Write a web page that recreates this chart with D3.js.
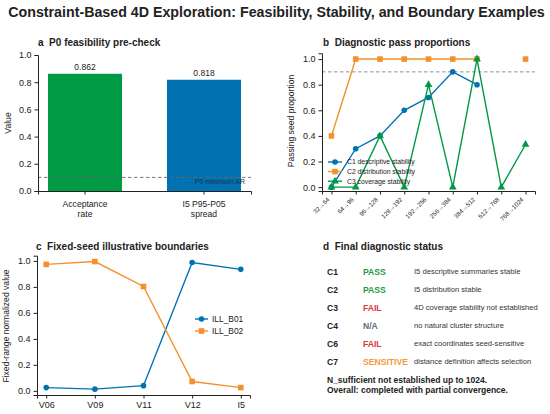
<!DOCTYPE html>
<html>
<head>
<meta charset="utf-8">
<script src="https://cdn.jsdelivr.net/npm/d3@7"></script>
<style>
  body { margin: 0; background: #fff; }
  text { font-family: "Liberation Sans", Arial, sans-serif; fill: #222; }
</style>
</head>
<body>
<div id="chart"></div>
<script>
// data
var feasCats = ["Acceptance\nrate", "I5 P95-P05\nspread"];
var feasVals = [0.862, 0.818];
var feasMinAR = 0.1;

var nRanges = ["32→64", "64→96", "96→128", "128→192", "192→256", "256→384", "384→512", "512→768", "768→1024"];
var c1Vals = [0.0, 0.3, 0.4, 0.6, 0.7, 0.9, 0.8, null, null];
var c2Vals = [0.4, 1.0, 1.0, 1.0, 1.0, 1.0, 1.0, null, 1.0];
var c3Vals = [0.0, 0.0, 0.4, 0.0, 0.8, 0.0, 1.0, 0.0, 0.333];
var passThreshold = 0.9;

var boundVars = ["V06", "V09", "V11", "V12", "I5"];
var b01Vals = [0.025, 0.013, 0.04, 0.988, 0.935];
var b02Vals = [0.973, 0.995, 0.803, 0.072, 0.025];

var statusCodes = ["C1", "C2", "C3", "C4", "C6", "C7"];
var statusVals = ["PASS", "PASS", "FAIL", "N/A", "FAIL", "SENSITIVE"];
var statusNotes = ["I5 descriptive summaries stable", "I5 distribution stable",
  "4D coverage stability not established", "no natural cluster structure",
  "exact coordinates seed-sensitive", "distance definition affects selection"];
var summaryLines = ["N_sufficient not established up to 1024.",
  "Overall: completed with partial convergence."];

// colours
var green = "#009a44", blue = "#0072b2", orange = "#f5902e";
var statusColor = {"PASS": "#1e9a4a", "FAIL": "#d9363e", "N/A": "#5d6b7a", "SENSITIVE": "#f59a3a"};

var width = 550, height = 414;
var svg = d3.select("#chart").append("svg")
  .attr("width", width).attr("height", height);

// main title, scaled so it spans the same width as the reference
var title = svg.append("text")
  .attr("x", 276.5).attr("y", 17)
  .attr("text-anchor", "middle")
  .attr("font-weight", "bold")
  .attr("font-size", "12.5px")
  .text("Constraint-Based 4D Exploration: Feasibility, Stability, and Boundary Examples");
var tw = title.node().getComputedTextLength();
title.attr("font-size", (12.5 * 537 / tw) + "px");

function panelTitle(x, y, letter, txt) {
  svg.append("text").attr("x", x).attr("y", y)
    .attr("font-weight", "bold").attr("font-size", "10px")
    .attr("xml:space", "preserve")
    .text(letter + "  " + txt);
}

// matplotlib-ish axis styling
function styleAxis(g) {
  g.selectAll("path.domain").attr("stroke", "#222").attr("stroke-width", 1);
  g.selectAll(".tick line").attr("stroke", "#222");
  g.selectAll(".tick text").attr("fill", "#222").attr("font-family", "Liberation Sans, Arial, sans-serif");
}

function yLabel(x, y, txt) {
  svg.append("text")
    .attr("transform", `translate(${x}, ${y}) rotate(-90)`)
    .attr("text-anchor", "middle").attr("font-size", "8.6px")
    .text(txt);
}

function marker(g, shape, x, y, color) {
  if (shape == "circle") {
    g.append("circle").attr("cx", x).attr("cy", y).attr("r", 2.8).attr("fill", color);
  } else if (shape == "square") {
    g.append("rect").attr("x", x - 2.8).attr("y", y - 2.8)
      .attr("width", 5.6).attr("height", 5.6).attr("fill", color);
  } else {
    g.append("path").attr("transform", `translate(${x}, ${y})`)
      .attr("d", d3.symbol(d3.symbolTriangle, 26)()).attr("fill", color);
  }
}

// ---------- panel a ----------
var ax = d3.scaleBand().domain(feasCats).range([38, 251]).paddingInner(0.378).paddingOuter(0.084);
var ay = d3.scaleLinear().domain([0, 1]).range([191, 55]);

panelTitle(38, 46, "a", "P0 feasibility pre-check");

svg.selectAll(".bar").data(feasVals).enter().append("rect")
  .attr("x", function(d, i) { return ax(feasCats[i]); })
  .attr("y", function(d) { return ay(d); })
  .attr("width", ax.bandwidth())
  .attr("height", function(d) { return ay(0) - ay(d); })
  .attr("fill", function(d, i) { return i == 0 ? green : blue; });

svg.selectAll(".barlab").data(feasVals).enter().append("text")
  .attr("x", function(d, i) { return ax(feasCats[i]) + ax.bandwidth() / 2; })
  .attr("y", function(d) { return ay(d) - 4; })
  .attr("text-anchor", "middle").attr("font-size", "8.5px")
  .text(function(d) { return d3.format(".3f")(d); });

svg.append("line")
  .attr("x1", 38).attr("x2", 251)
  .attr("y1", ay(feasMinAR)).attr("y2", ay(feasMinAR))
  .attr("stroke", "#666").attr("stroke-width", 0.9).attr("stroke-dasharray", "3.5,2.5");
svg.append("text").attr("x", 245).attr("y", ay(feasMinAR) + 7)
  .attr("text-anchor", "end").attr("font-size", "7px")
  .style("fill", "#1d2f4a")
  .text("P0 minimum AR");

var gay = svg.append("g").attr("transform", "translate(38,0)")
  .call(d3.axisLeft(ay).tickValues([0, 0.2, 0.4, 0.6, 0.8, 1.0]).tickFormat(d3.format(".1f")).tickSizeOuter(0).tickSize(3.5));
gay.selectAll("text").attr("font-size", "9px");
styleAxis(gay);

var gax = svg.append("g").attr("transform", "translate(0,191)")
  .call(d3.axisBottom(ax).tickSizeOuter(0).tickSize(3.5).tickFormat(""));
styleAxis(gax);
gax.selectAll(".tick").each(function(d) {
  var t = d3.select(this).append("text").attr("fill", "#222").attr("font-size", "8.6px")
    .attr("text-anchor", "middle");
  d.split("\n").forEach(function(s, k) {
    t.append("tspan").attr("x", 0).attr("y", 16 + k * 10).text(s);
  });
});
yLabel(11, 123, "Value");

// ---------- panel b ----------
var bx = d3.scalePoint().domain(nRanges).range([322, 535]).padding(0.39);
var by = d3.scaleLinear().domain([-0.03, 1.045]).range([191, 53.3]);

panelTitle(323, 46, "b", "Diagnostic pass proportions");

svg.append("line")
  .attr("x1", 322).attr("x2", 535)
  .attr("y1", by(passThreshold)).attr("y2", by(passThreshold))
  .attr("stroke", "#7d8794").attr("stroke-width", 0.9).attr("stroke-dasharray", "3.5,2.5");

var series = [
  {name: "C1 descriptive stability", vals: c1Vals, color: blue, shape: "circle"},
  {name: "C2 distribution stability", vals: c2Vals, color: orange, shape: "square"},
  {name: "C3 coverage stability", vals: c3Vals, color: green, shape: "triangle"}
];
var bline = d3.line()
  .defined(function(d) { return d != null; })
  .x(function(d, i) { return bx(nRanges[i]); })
  .y(function(d) { return by(d); });

var gb = svg.append("g");
series.forEach(function(s) {
  gb.append("path").attr("d", bline(s.vals))
    .attr("fill", "none").attr("stroke", s.color).attr("stroke-width", 1.4);
  s.vals.forEach(function(v, i) {
    if (v != null) marker(gb, s.shape, bx(nRanges[i]), by(v), s.color);
  });
});

var gby = svg.append("g").attr("transform", "translate(322,0)")
  .call(d3.axisLeft(by).tickValues([0, 0.2, 0.4, 0.6, 0.8, 1.0]).tickFormat(d3.format(".1f")).tickSizeOuter(0).tickSize(3.5));
gby.selectAll("text").attr("font-size", "9px");
styleAxis(gby);

var gbx = svg.append("g").attr("transform", "translate(0,191)")
  .call(d3.axisBottom(bx).tickSizeOuter(0).tickSize(3.5));
styleAxis(gbx);
gbx.selectAll(".tick text")
  .attr("font-size", "6.2px")
  .attr("text-anchor", "end")
  .attr("dy", null).attr("y", 0)
  .attr("transform", "translate(-2,9) rotate(-45)");
yLabel(294, 121, "Passing seed proportion");

// legend b
series.forEach(function(s, i) {
  var ly = 162 + i * 9.6;
  svg.append("line").attr("x1", 328).attr("x2", 342).attr("y1", ly).attr("y2", ly)
    .attr("stroke", s.color).attr("stroke-width", 1.4);
  marker(svg, s.shape, 335, ly, s.color);
  svg.append("text").attr("x", 347).attr("y", ly + 2.4)
    .attr("font-size", "6.8px").text(s.name);
});

// ---------- panel c ----------
var cx = d3.scalePoint().domain(boundVars).range([37, 250]).padding(0.19);
var cy = d3.scaleLinear().domain([-0.032, 1.04]).range([395, 255.7]);

panelTitle(36, 250, "c", "Fixed-seed illustrative boundaries");

var cseries = [
  {name: "ILL_B01", vals: b01Vals, color: blue, shape: "circle"},
  {name: "ILL_B02", vals: b02Vals, color: orange, shape: "square"}
];
var cline = d3.line()
  .x(function(d, i) { return cx(boundVars[i]); })
  .y(function(d) { return cy(d); });
var gc = svg.append("g");
cseries.forEach(function(s) {
  gc.append("path").attr("d", cline(s.vals))
    .attr("fill", "none").attr("stroke", s.color).attr("stroke-width", 1.4);
  s.vals.forEach(function(v, i) { marker(gc, s.shape, cx(boundVars[i]), cy(v), s.color); });
});

var gcy = svg.append("g").attr("transform", "translate(37,0)")
  .call(d3.axisLeft(cy).tickValues([0, 0.2, 0.4, 0.6, 0.8, 1.0]).tickFormat(d3.format(".1f")).tickSizeOuter(0).tickSize(3.5));
gcy.selectAll("text").attr("font-size", "9px");
styleAxis(gcy);
var gcx = svg.append("g").attr("transform", "translate(0,395)")
  .call(d3.axisBottom(cx).tickSizeOuter(0).tickSize(3.5));
gcx.selectAll("text").attr("font-size", "9px");
styleAxis(gcx);
yLabel(9, 326, "Fixed-range normalized value");

cseries.forEach(function(s, i) {
  var ly = 319 + i * 12;
  svg.append("line").attr("x1", 195).attr("x2", 208).attr("y1", ly).attr("y2", ly)
    .attr("stroke", s.color).attr("stroke-width", 1.4);
  marker(svg, s.shape, 201.5, ly, s.color);
  svg.append("text").attr("x", 212).attr("y", ly + 3)
    .attr("font-size", "8.4px").text(s.name);
});

// ---------- panel d ----------
panelTitle(323, 250, "d", "Final diagnostic status");
statusCodes.forEach(function(c, i) {
  var y = 274.5 + i * 18;
  svg.append("text").attr("x", 327).attr("y", y)
    .attr("font-weight", "bold").attr("font-size", "8.6px").text(c);
  svg.append("text").attr("x", 363).attr("y", y)
    .attr("font-weight", "bold").attr("font-size", "8.6px")
    .style("fill", statusColor[statusVals[i]]).text(statusVals[i]);
  svg.append("text").attr("x", 414).attr("y", y - 0.5)
    .attr("font-size", "7.6px").style("fill", "#333").text(statusNotes[i]);
});
summaryLines.forEach(function(s, k) {
  svg.append("text").attr("x", 327).attr("y", 383 + k * 9.5)
    .attr("font-weight", "bold").attr("font-size", "8.5px").text(s);
});
</script>
</body>
</html>
